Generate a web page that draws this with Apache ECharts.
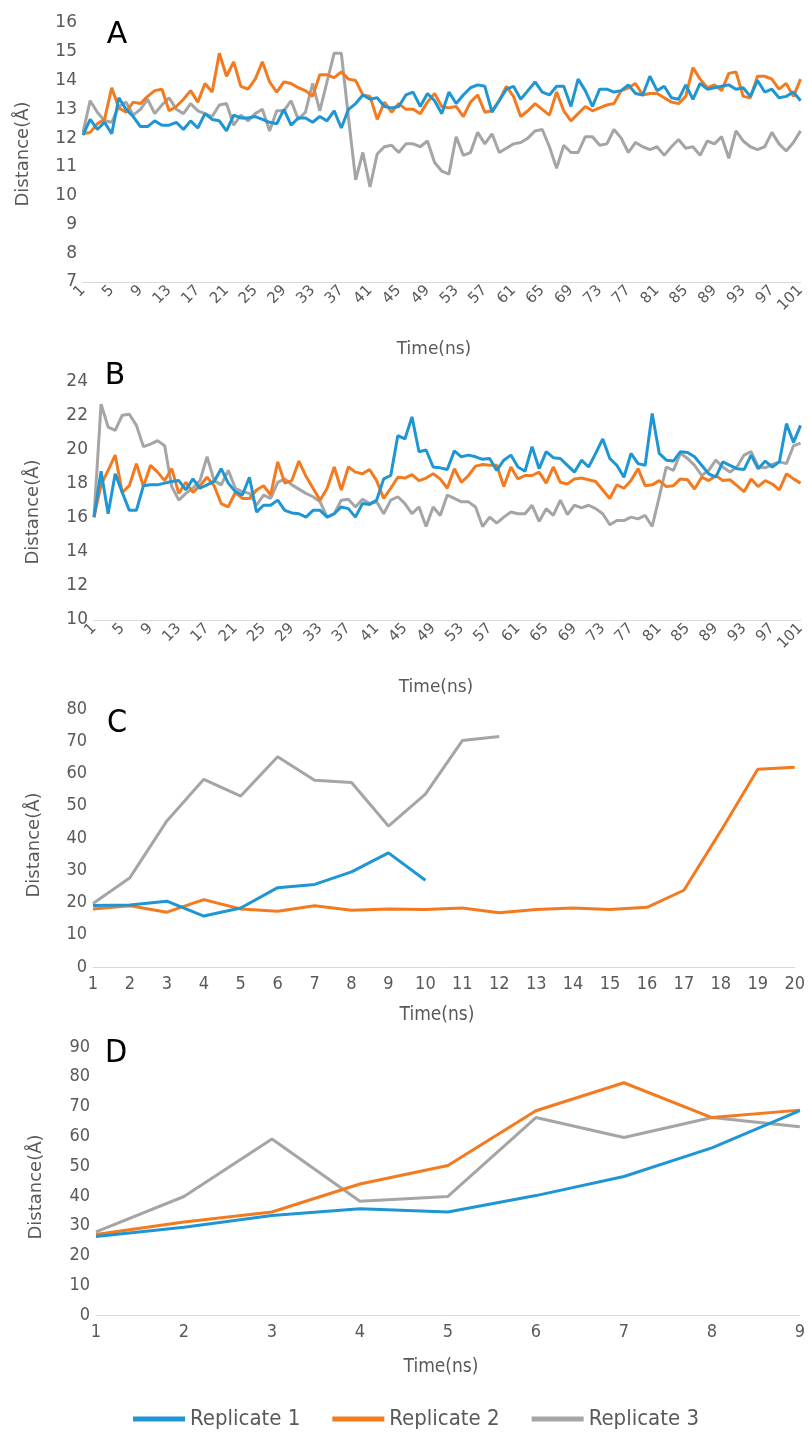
<!DOCTYPE html>
<html>
<head>
<meta charset="utf-8">
<script src="https://cdn.jsdelivr.net/npm/echarts@6/dist/echarts.min.js"></script>
<style>
html,body{margin:0;padding:0;background:#fff;}
#chart{width:808px;height:1444px;}
</style>
</head>
<body>
<div id="chart"></div>
<script>
// ---------- DATA ----------
const seriesNames = ['Replicate 1', 'Replicate 2', 'Replicate 3'];

const timeA = Array.from({length: 101}, (_, i) => String(i + 1));
const timeB = Array.from({length: 101}, (_, i) => String(i + 1));
const timeC = ['1','2','3','4','5','6','7','8','9','10','11','12','13','14','15','16','17','18','19','20'];
const timeD = ['1','2','3','4','5','6','7','8','9'];

const aRep1 = [12.1,12.65,12.3,12.55,12.15,13.4,13.0,12.75,12.4,12.4,12.6,12.45,12.45,12.55,12.3,12.6,12.35,12.85,12.65,12.6,
12.25,12.8,12.7,12.7,12.75,12.65,12.55,12.5,13.0,12.45,12.7,12.7,12.55,12.75,12.6,12.95,12.35,13.0,13.2,13.5,
13.35,13.4,13.1,13.05,13.1,13.5,13.6,13.1,13.55,13.3,12.85,13.6,13.2,13.5,13.75,13.85,13.8,12.9,13.3,13.7,
13.8,13.35,13.65,13.95,13.6,13.5,13.8,13.8,13.1,14.05,13.65,13.1,13.7,13.7,13.6,13.65,13.85,13.55,13.5,14.15,
13.65,13.8,13.4,13.35,13.85,13.35,13.9,13.7,13.75,13.8,13.85,13.7,13.75,13.45,14.0,13.6,13.7,13.4,13.45,13.6,13.3];
const aRep2 = [12.15,12.2,12.5,12.65,13.75,13.05,12.9,13.25,13.2,13.45,13.65,13.7,12.95,13.1,13.35,13.65,13.25,13.9,13.6,14.95,
14.15,14.65,13.8,13.7,14.05,14.65,13.95,13.6,13.95,13.9,13.75,13.65,13.45,14.2,14.2,14.1,14.3,14.05,14.0,13.5,
13.45,12.65,13.25,12.9,13.2,13.0,13.0,12.85,13.25,13.55,13.1,13.05,13.1,12.75,13.25,13.5,12.9,12.95,13.3,13.8,
13.45,12.75,12.95,13.2,13.0,12.8,13.6,12.95,12.6,12.85,13.1,12.95,13.05,13.15,13.2,13.65,13.75,13.9,13.5,13.55,
13.55,13.4,13.25,13.2,13.45,14.45,14.05,13.75,13.85,13.65,14.25,14.3,13.45,13.4,14.15,14.15,14.05,13.7,13.9,13.45,14.05];
const aRep3 = [12.2,13.3,12.9,12.6,12.55,13.1,13.25,12.8,13.0,13.35,12.85,13.15,13.4,13.0,12.85,13.2,12.95,12.85,12.75,13.15,
13.2,12.45,12.8,12.6,12.85,13.0,12.25,12.95,12.95,13.3,12.65,12.9,13.9,12.95,13.95,14.95,14.95,12.7,10.55,11.5,
10.3,11.45,11.7,11.75,11.5,11.8,11.8,11.7,11.9,11.15,10.85,10.75,12.05,11.4,11.5,12.2,11.8,12.15,11.5,11.65,
11.8,11.85,12.0,12.25,12.3,11.7,10.95,11.75,11.5,11.5,12.05,12.05,11.75,11.8,12.3,12.0,11.5,11.85,11.7,11.6,
11.7,11.4,11.7,11.95,11.65,11.7,11.4,11.9,11.8,12.05,11.3,12.25,11.9,11.7,11.6,11.7,12.2,11.8,11.55,11.85,12.25];

const bRep1 = [16.05,18.75,16.25,18.6,17.5,16.45,16.45,17.9,17.95,17.95,18.05,18.15,18.2,17.65,18.3,17.75,17.95,18.15,18.9,18.05,
17.55,17.35,18.4,16.35,16.75,16.75,17.05,16.45,16.3,16.25,16.05,16.45,16.45,16.05,16.25,16.65,16.55,16.05,16.85,16.8,
17.05,18.3,18.5,20.85,20.65,21.95,19.9,20.0,19.0,18.95,18.85,19.95,19.6,19.7,19.6,19.45,19.5,18.8,19.4,19.7,
19.0,18.75,20.2,18.9,19.9,19.55,19.5,19.1,18.7,19.4,19.0,19.8,20.65,19.5,19.1,18.4,19.8,19.2,19.1,22.15,
19.8,19.4,19.35,19.9,19.85,19.6,19.1,18.6,18.4,19.3,19.1,18.9,18.85,19.7,18.9,19.35,19.0,19.3,21.55,20.45,21.45];
const bRep2 = [16.05,17.95,18.8,19.7,17.5,17.9,19.2,17.85,19.1,18.7,18.2,18.9,17.45,18.1,17.5,17.9,18.4,17.9,16.85,16.65,
17.5,17.15,17.15,17.65,17.9,17.35,19.3,18.05,18.2,19.35,18.45,17.75,17.05,17.75,19.0,17.65,19.0,18.7,18.6,18.85,
18.2,17.15,17.75,18.4,18.35,18.55,18.2,18.35,18.6,18.3,17.75,18.9,18.1,18.5,19.05,19.15,19.1,19.1,17.85,19.0,
18.3,18.5,18.5,18.7,18.05,19.0,18.1,18.0,18.3,18.35,18.25,18.15,17.65,17.15,17.95,17.75,18.2,18.9,17.9,17.95,
18.2,17.85,17.9,18.3,18.25,17.7,18.4,18.2,18.5,18.2,18.25,17.9,17.55,18.3,17.85,18.2,18.0,17.65,18.6,18.3,18.05];
const bRep3 = [16.05,22.7,21.35,21.15,22.05,22.1,21.45,20.2,20.35,20.55,20.25,17.85,17.05,17.45,17.75,18.2,19.6,18.2,17.95,18.8,
17.75,17.55,17.45,16.75,17.35,17.15,18.1,18.3,17.95,17.7,17.45,17.25,16.95,16.05,16.25,17.05,17.1,16.65,17.1,16.85,
16.95,16.25,17.05,17.25,16.85,16.25,16.65,15.5,16.65,16.15,17.35,17.15,16.95,16.95,16.65,15.5,16.05,15.7,16.05,16.35,
16.25,16.25,16.75,15.8,16.55,16.15,17.05,16.2,16.75,16.6,16.75,16.55,16.25,15.6,15.85,15.85,16.05,15.95,16.15,15.5,
17.25,19.0,18.8,19.8,19.5,19.1,18.5,18.8,19.4,19.0,18.7,19.0,19.7,19.9,19.0,18.95,19.15,19.3,19.2,20.25,20.4];

const cRep1 = [19.1,19.2,20.4,15.8,18.3,24.6,25.6,29.5,35.4,26.9];
const cRep2 = [18.0,19.0,17.0,20.9,18.0,17.3,19.0,17.6,18.0,17.8,18.3,16.8,17.8,18.3,17.8,18.5,23.8,42.2,61.3,61.9];
const cRep3 = [19.7,27.7,45.3,58.2,53.0,65.2,57.9,57.2,43.7,53.6,70.2,71.5];

const dRep1 = [26.4,29.5,33.4,35.7,34.6,40.1,46.5,56.1,68.6];
const dRep2 = [27.0,31.2,34.6,44.0,50.2,68.6,78.0,66.3,68.8];
const dRep3 = [27.9,39.8,59.1,38.2,39.8,66.3,59.6,66.3,63.2];

// ---------- STYLE ----------
const colors = ['#1f96d4', '#f47a20', '#a5a5a5'];
const labelColor = '#595959';
const fontA = "'DejaVu Sans', Verdana, sans-serif";
const fontC = "'DejaVu Sans Condensed', 'Liberation Sans Narrow', 'DejaVu Sans', sans-serif";

const grids = [
  {left: 83, top: 23, width: 721, height: 259},
  {left: 94, top: 382, width: 709, height: 238},
  {left: 93, top: 709, width: 704, height: 258},
  {left: 96, top: 1047, width: 710, height: 268}
];

const cats = [timeA, timeB, timeC, timeD];
const xAxes = cats.map((c, i) => ({
  type: 'category', gridIndex: i, data: c, boundaryGap: false,
  axisLine: {show: true, lineStyle: {color: '#d9d9d9', width: 1}},
  axisTick: {show: false},
  splitLine: {show: false},
  axisLabel: i < 2 ? {
    interval: 3, rotate: 45, color: labelColor, fontSize: 15, fontFamily: fontA, margin: 6
  } : {
    interval: 0, color: labelColor, fontSize: 18, fontFamily: fontC, margin: 8
  }
}));

const yRanges = [[7, 16, 1], [10, 24, 2], [0, 80, 10], [0, 90, 10]];
const yAxes = yRanges.map((r, i) => ({
  type: 'value', gridIndex: i, min: r[0], max: r[1], interval: r[2],
  axisLine: {show: false}, axisTick: {show: false}, splitLine: {show: false},
  axisLabel: {color: labelColor, fontSize: i < 2 ? 17 : 18, fontFamily: i < 2 ? fontA : fontC, margin: 6}
}));

const panelData = [[aRep1, aRep2, aRep3], [bRep1, bRep2, bRep3], [cRep1, cRep2, cRep3], [dRep1, dRep2, dRep3]];
const series = [];
panelData.forEach((arr, p) => {
  arr.forEach((vals, s) => {
    series.push({
      name: seriesNames[s], type: 'line', xAxisIndex: p, yAxisIndex: p,
      data: vals, symbol: 'none', showSymbol: false,
      lineStyle: {color: colors[s], width: 3},
      itemStyle: {color: colors[s]},
      z: s === 0 ? 4 : (s === 1 ? 3 : 2),
      animation: false
    });
  });
});

function txt(x, y, s, font, color, rot) {
  return {type: 'text', x: x, y: y, rotation: rot || 0, silent: true,
    style: {text: s, font: font, fill: color, align: 'center', verticalAlign: 'middle',
      textAlign: 'center', textVerticalAlign: 'middle'}};
}
const graphics = [
  txt(117, 35, 'A', "30px " + fontA, '#000'),
  txt(115, 376, 'B', "30px " + fontA, '#000'),
  txt(117, 724, 'C', "32px " + fontC, '#000'),
  txt(116, 1054, 'D', "32px " + fontC, '#000'),
  txt(23, 154, 'Distance(Å)', "18px " + fontA, labelColor, Math.PI / 2),
  txt(33, 512, 'Distance(Å)', "18px " + fontA, labelColor, Math.PI / 2),
  txt(34, 845, 'Distance(Å)', "18px " + fontA, labelColor, Math.PI / 2),
  txt(36, 1187, 'Distance(Å)', "18px " + fontA, labelColor, Math.PI / 2),
  txt(434, 350, 'Time(ns)', "17px " + fontA, labelColor),
  txt(436, 688, 'Time(ns)', "17px " + fontA, labelColor),
  txt(437, 1015, 'Time(ns)', "19px " + fontC, labelColor),
  txt(441, 1367, 'Time(ns)', "19px " + fontC, labelColor)
];

const chart = echarts.init(document.getElementById('chart'), null, {renderer: 'canvas'});
chart.setOption({
  animation: false,
  backgroundColor: '#fff',
  grid: grids,
  xAxis: xAxes,
  yAxis: yAxes,
  series: series,
  legend: {
    data: seriesNames, left: 128, top: 1403, icon: 'rect', itemWidth: 52, itemHeight: 5,
    itemGap: 32,
    textStyle: {color: labelColor, fontSize: 22, fontFamily: fontC}
  },
  graphic: graphics
});
</script>
</body>
</html>
